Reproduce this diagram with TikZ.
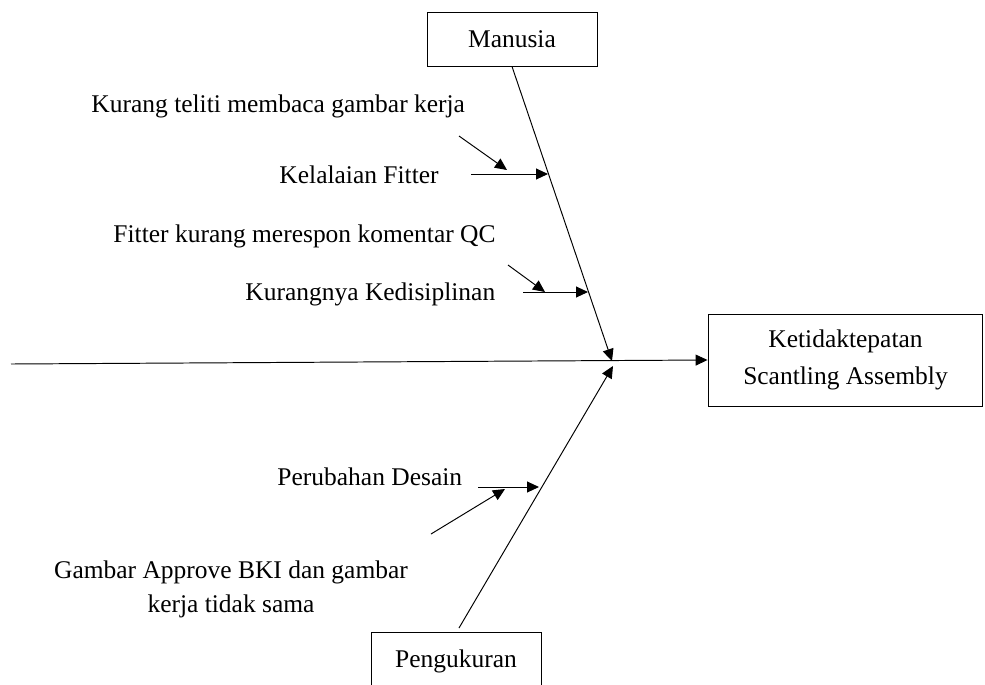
\documentclass[tikz,border=0pt]{standalone}
\usepackage{fontspec}
\setmainfont{Liberation Serif}
\usetikzlibrary{arrows.meta}

\begin{document}
\begin{tikzpicture}[x=.02cm,y=-.02cm,line width=.55pt,font=\fontsize{14.5}{21}\selectfont,
  box/.style={draw,inner sep=0pt},
  lbl/.style={anchor=base west,inner sep=0pt},
  arr/.style={-{Triangle[length=2.4mm,width=2.2mm]}}]
\clip (0,0) rectangle (985,684);
% boxes
\node[box,minimum width=3.4cm,minimum height=1.08cm] (man) at (512,39) {Manusia};
\node[box,minimum width=5.5cm,minimum height=1.84cm,align=center] (eff) at (845.5,360) {Ketidaktepatan\\Scantling Assembly};
\node[box,minimum width=3.4cm,minimum height=1.16cm] (pen) at (456,661) {Pengukuran};
% spine
\coordinate (tail) at (11,364);
\coordinate (hm) at (612,361);
\coordinate (hp) at (613,366);
\coordinate (pm) at (459,628);
\draw[arr] (tail)--(eff.west);
\draw[arr] (man.south)--(hm);
\draw[arr] (pm)--(hp);
% manusia
\node[lbl] (kt) at (91,112) {Kurang teliti membaca gambar kerja};
\node[lbl] (kf) at (279,183) {Kelalaian Fitter};
\node[lbl] (fk) at (113,242) {Fitter kurang merespon komentar QC};
\node[lbl] (kd) at (245,300) {Kurangnya Kedisiplinan};
\coordinate (kf0) at (471,174); \coordinate (kf1) at (548,174);
\coordinate (kt0) at (459,136); \coordinate (kt1) at (507,170);
\coordinate (kd0) at (523,292); \coordinate (kd1) at (588,292);
\coordinate (fk0) at (508,265); \coordinate (fk1) at (545,292);
\draw[arr] (kf0)--(kf1);
\draw[arr] (kt0)--(kt1);
\draw[arr] (kd0)--(kd1);
\draw[arr] (fk0)--(fk1);
% pengukuran
\node[lbl] (pd) at (277,485) {Perubahan Desain};
\node[inner sep=0pt,align=center,font=\fontsize{14.5}{19.5}\selectfont] (ga) at (231,589) {Gambar Approve BKI dan gambar\\kerja tidak sama};
\coordinate (pd0) at (478,487); \coordinate (pd1) at (539,487);
\coordinate (ga0) at (431,534); \coordinate (ga1) at (505,489);
\draw[arr] (pd0)--(pd1);
\draw[arr] (ga0)--(ga1);
\end{tikzpicture}
\end{document}
